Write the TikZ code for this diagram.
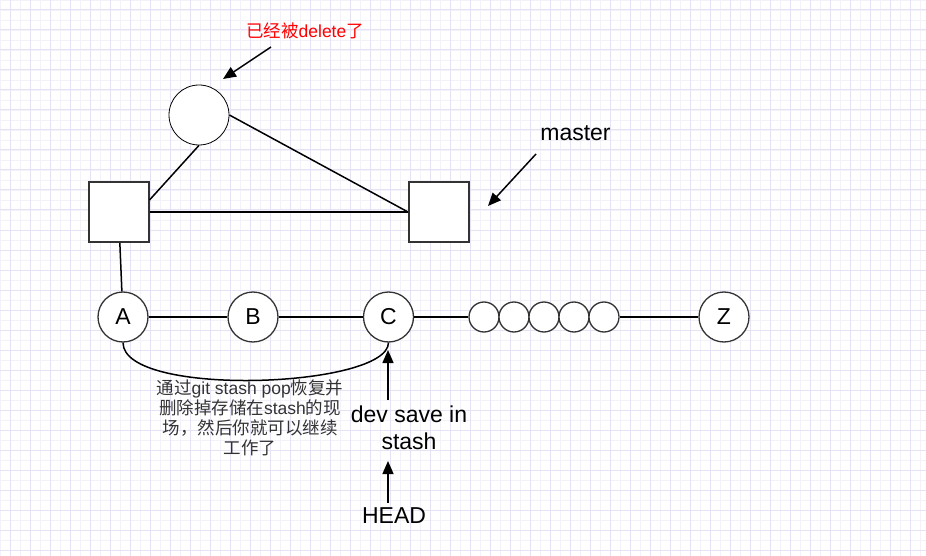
\documentclass[tikz,border=0pt]{standalone}
\usepackage{fontspec}
\setmainfont{Liberation Sans}
\newfontfamily\cjk{Noto Sans CJK SC}
\newcommand{\zh}[1]{{\cjk #1}}
\usetikzlibrary{arrows.meta}
\usetikzlibrary{positioning}
\definecolor{gridminor}{RGB}{243,242,249}
\definecolor{gridmajor}{RGB}{229,226,246}
\definecolor{edge}{RGB}{51,51,51}
\definecolor{note}{RGB}{255,0,0}
\tikzset{
  % background paper
  paper minor/.style = {
    draw = gridminor,
    line width = 0.8pt
  },
  paper major/.style = {
    draw = gridmajor,
    line width = 1pt
  }
}
\tikzset {
  % commit on the branch
  commit/.style = {
    draw = edge,
    circle,
    line width = 1.3pt,
    fill = white,
    minimum size = 50pt,
    inner sep = 0,
    font = \fontsize{23}{27}\selectfont
  },
  % commit that is not named
  bead/.style = {
    commit,
    minimum size = 30pt
  },
  % commit that was removed
  gone commit/.style = {
    draw = black,
    circle,
    line width = 0.8pt,
    fill = white,
    minimum size = 60pt,
    inner sep = 0
  },
  % branch tip
  tip/.style = {
    draw = edge,
    rectangle,
    line width = 2pt,
    fill = white,
    minimum size = 60pt,
    inner sep = 0
  },
  link/.style = {
    draw = black,
    line width = 1.5pt
  },
  pointer/.style = {
    link,
    -{Triangle[width = 11pt, length = 13pt]}
  },
  label/.style = {
    align = center,
    font = \fontsize{23}{27}\selectfont
  },
  remark/.style = {
    align = center,
    text = edge,
    font = \fontsize{17.5}{20}\selectfont
  }
}

\begin{document}
\begin{tikzpicture}[x = 1pt, y = -1pt]
  \useasboundingbox (0,0) rectangle (926,556);
  \fill[white] (0,0) rectangle (926,556);
  \foreach \x in {0,10,...,920}
    \draw[paper minor] (\x,0) -- (\x,556);
  \foreach \y in {0,10,...,550}
    \draw[paper minor] (0,\y) -- (926,\y);
  \foreach \x in {10,30,...,910}
    \draw[paper major] (\x,0) -- (\x,556);
  \foreach \y in {10,30,...,550}
    \draw[paper major] (0,\y) -- (926,\y);

  % branch tips and the removed commit
  \node[gone commit] (gone) at (199,115) {};
  \node[tip] (old-tip) at (118.5,212) {};
  \node[tip] (master-tip) at (439,212) {};

  \draw[link] (gone.south) -- ([yshift = 12pt]old-tip.east);
  \draw[link] (gone.east) -- (master-tip.west);
  \draw[link] (old-tip.east) -- (master-tip.west);

  % the branch
  \node[commit] (A) at (123,317) {A};
  \node[commit] (B) at (253,317) {B};
  \node[commit] (C) at (388.5,317) {C};
  \foreach \i/\x in {1/484,2/514,3/544,4/574,5/604}
    \node[bead] (bead-\i) at (\x,317) {};
  \node[commit] (Z) at (724,317) {Z};

  \draw[link] (old-tip) -- (A);
  \draw[link] (A) -- (B);
  \draw[link] (B) -- (C);
  \draw[link] (C) -- (bead-1);
  \draw[link] (bead-5) -- (Z);
  \draw[link] (A.south) .. controls (123,398) and (388,388) .. (C.south);

  % labels
  \node[label, text = note, font = \fontsize{17.5}{20}\selectfont] (gone-text) at (305,31)
    {\zh{已经被}delete\zh{了}};
  \node[label] (master-text) at (575.5,133) {master};
  \node[label] (stash-text) at (409,428) {dev save in\\stash};
  \node[label] (head-text) at (394,516) {HEAD};
  \node[remark] (pop-text) at (250,418)
    {\zh{通过}git stash pop\zh{恢复并}\\
     \zh{删除掉存储在}stash\zh{的现}\\
     \zh{场，然后你就可以继续}\\
     \zh{工作了}};

  \coordinate (gone-from) at (271,47);
  \coordinate (gone-to) at (223,79);
  \coordinate (master-from) at (536,154);
  \coordinate (master-to) at (488,206);
  \coordinate (stash-from) at (388,400);
  \coordinate (C-in) at (388,350);
  \coordinate (head-from) at (388,503);
  \coordinate (stash-in) at (388,461);

  \draw[pointer] (gone-from) -- (gone-to);
  \draw[pointer] (master-from) -- (master-to);
  \draw[pointer] (stash-from) -- (C-in);
  \draw[pointer] (head-from) -- (stash-in);
\end{tikzpicture}
\end{document}
